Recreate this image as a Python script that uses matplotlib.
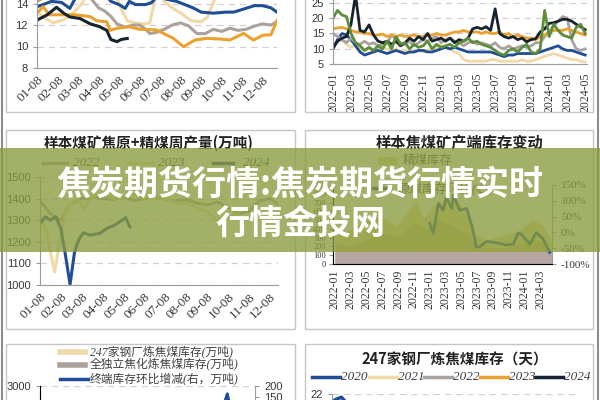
import matplotlib
matplotlib.use("Agg")
import matplotlib.pyplot as plt
from matplotlib.patches import Rectangle
from matplotlib.lines import Line2D
import numpy as np

plt.rcParams['font.family'] = ['Liberation Sans', 'Noto Sans CJK SC', 'DejaVu Sans']
plt.rcParams['axes.unicode_minus'] = False

W, H = 600.0, 400.0
SERIF = ['Liberation Serif', 'Noto Sans CJK SC']
CJK = ['Noto Sans CJK SC', 'DejaVu Sans']

NAVY = '#1f4e96'
BEIGE = '#f1d9a8'
GRAY = '#aaa39d'
ORANGE = '#eba12e'
BLACK = '#17232f'
GREEN = '#5c8d3a'

# ---------------- data ----------------
months = ['01-08', '02-08', '03-08', '04-08', '05-08', '06-08',
          '07-08', '08-08', '09-08', '10-08', '11-08', '12-08']
ym_top = ['2022-01', '2022-03', '2022-05', '2022-07', '2022-09', '2022-11',
          '2023-01', '2023-03', '2023-05', '2023-07', '2023-09', '2023-11',
          '2024-01', '2024-03', '2024-05']
ym_mid = ym_top[:-1]

# top left: seasonal lines (x in months from 01-08)
tl_blue_x = [0, 0.3, 0.7, 1.2, 1.6, 1.9, 2.5, 3.2, 3.6, 4.0, 4.3, 4.5, 4.8, 5.3, 5.6, 5.9, 6.3,
             6.8, 7.2, 7.6, 8.0, 8.6, 9.2, 9.6, 10.1, 10.6, 11.0, 11.4, 11.7]
tl_blue = [13.7, 13.9, 14.2, 14.1, 13.55, 14.6, 15.5, 15.2, 14.2, 13.9, 13.55, 14.2, 13.9, 13.9,
           14.1, 14.8, 14.4, 14.2, 13.9, 13.6, 13.2, 13.1, 13.2, 13.2, 13.5, 13.8, 13.8, 13.6, 13.2]
tl_beige_x = [0, 0.4, 0.8, 1.3, 1.7, 2.2, 2.6, 3.2, 3.8, 4.1, 4.4, 4.8, 5.2, 5.5, 5.8, 6.0, 6.2,
              6.6, 7.1, 7.5, 8.0, 8.3, 8.7, 9.0, 10.0, 11.7]
tl_beige = [13.2, 12.6, 12.2, 12.5, 13.0, 14.0, 15.5, 16.0, 15.0, 13.5, 12.4, 12.2, 12.1, 12.2,
            14.8, 15.5, 14.2, 13.6, 13.0, 12.4, 12.3, 12.7, 14.6, 16.0, 17.0, 17.0]
tl_gray_x = [0, 0.3, 0.8, 1.5, 2.3, 2.7, 3.0, 3.3, 3.6, 3.9, 4.3, 4.7, 5.0, 5.3, 5.5, 5.8, 6.2,
             6.6, 7.0, 7.4, 7.8, 8.2, 8.6, 9.0, 9.4, 9.8, 10.2, 10.6, 11.0, 11.4, 11.7]
tl_gray = [14.2, 14.5, 15.5, 16.0, 15.2, 14.3, 13.6, 13.3, 12.8, 12.1, 11.8, 12.0, 12.0, 11.6,
           11.2, 11.3, 11.6, 12.0, 12.2, 11.9, 11.2, 11.2, 11.6, 11.4, 11.7, 11.5, 11.6, 11.9,
           12.1, 12.0, 12.3]
tl_orange_x = [0, 0.3, 0.6, 1.0, 1.8, 2.1, 2.6, 2.9, 3.4, 3.56, 3.9, 4.5, 5.0, 5.8, 6.16, 6.65,
               7.14, 7.7, 8.28, 8.93, 9.4, 10.07, 10.55, 11.04, 11.4, 11.7]
tl_orange = [13.1, 13.7, 12.95, 12.95, 12.95, 12.9, 12.77, 12.4, 12.3, 11.5, 11.7, 11.84, 11.6,
             11.55, 11.22, 10.76, 9.98, 10.6, 10.76, 10.7, 10.6, 11.22, 10.6, 11.07, 11.07, 12.4]
tl_black_x = [0, 0.5, 0.95, 1.3, 1.6, 2.1, 2.6, 3.05, 3.4, 3.6, 3.9, 4.1, 4.4]
tl_black = [12.45, 12.95, 13.65, 13.1, 12.75, 12.6, 12.1, 11.85, 11.5, 10.65, 10.45, 10.65, 10.75]

# top right: half-month steps from 2022-01
tr_black = [10.3, 12.5, 13.5, 14.0, 18.0, 27.5, 16.0, 15.5, 17.8, 14.5, 12.5, 12.0, 12.5, 11.5,
            12.5, 11.0, 12.0, 13.5, 12.5, 14.0, 13.0, 15.0, 12.5, 13.0, 13.5, 12.5, 13.5, 12.0,
            13.0, 12.5, 13.5, 16.5, 17.0, 16.5, 17.2, 16.0, 23.0, 15.0, 14.0, 13.5, 14.0, 13.0,
            13.5, 12.3, 13.0, 13.3, 15.5, 16.5, 18.3, 18.5, 19.0, 19.6, 19.6, 19.0, 18.0, 17.2, 16.2]
tr_orange = [16.5, 16.8, 17.0, 16.5, 16.0, 15.5, 15.5, 15.0, 15.0, 14.5, 14.5, 14.8, 14.0, 14.5,
             14.0, 14.5, 14.0, 14.2, 14.5, 14.0, 14.0, 14.5, 14.5, 15.0, 14.5, 14.5, 15.0, 15.5,
             15.5, 16.0, 15.5, 15.5, 15.5, 15.0, 15.5, 15.0, 15.0, 15.5, 14.5, 15.0, 14.0, 14.5,
             14.0, 13.5, 13.5, 13.0, 14.0, 14.5, 15.5, 16.0, 16.0, 16.0, 16.5, 16.0, 15.5, 15.0, 14.5]
tr_gray = [15.0, 14.0, 13.0, 12.0, 13.5, 12.0, 11.5, 12.5, 11.5, 12.0, 11.0, 11.5, 12.0, 14.5,
           13.0, 12.0, 11.5, 12.5, 11.0, 12.0, 13.0, 12.5, 13.5, 14.0, 12.0, 13.0, 13.5, 12.5,
           12.0, 11.0, 12.0, 12.5, 11.5, 12.0, 11.5, 11.0, 12.0, 10.5, 10.0, 11.0, 10.0, 10.5,
           11.0, 10.5, 11.0, 12.0, 12.0, 14.0, 15.5, 17.5, 19.0, 20.5, 20.0, 13.0, 10.0, 9.5, 10.0]
tr_green = [20.0, 22.5, 21.0, 20.5, 15.0, 12.0, 11.0, 9.5, 10.5, 9.5, 11.0, 10.0, 12.5, 10.0,
            14.0, 11.5, 12.0, 10.0, 11.5, 10.5, 11.0, 12.5, 10.0, 11.5, 10.5, 11.0, 11.5, 10.5,
            12.0, 12.5, 13.5, 12.0, 12.5, 11.5, 11.0, 10.5, 9.5, 8.5, 8.0, 9.5, 10.0, 9.0,
            10.5, 11.5, 9.0, 8.5, 10.0, 22.5, 14.0, 18.0, 16.0, 14.5, 14.0, 13.5, 17.0, 18.0, 15.0]
tr_blue = [10.0, 13.0, 15.0, 14.5, 13.0, 11.0, 9.0, 8.0, 8.5, 9.0, 9.5, 9.0, 8.5, 9.0,
           9.5, 9.0, 8.5, 9.0, 9.0, 9.5, 9.5, 9.0, 9.0, 9.5, 10.0, 10.5, 10.0, 10.5,
           10.0, 9.5, 9.0, 9.0, 9.0, 9.0, 9.0, 9.0, 8.5, 8.0, 7.5, 8.0, 8.0, 8.5,
           8.5, 8.5, 8.5, 8.5, 9.0, 9.5, 10.0, 10.5, 11.0, 10.0, 9.5, 9.5, 9.0, 8.5, 8.0]
tr_beige = [11.0, 12.0, 13.0, 11.5, 10.5, 11.0, 10.0, 9.5, 10.0, 9.5, 10.0, 10.5, 10.0, 9.5,
            10.0, 9.0, 9.5, 9.0, 9.0, 9.5, 9.0, 9.5, 10.0, 10.5, 11.0, 10.5, 10.0, 9.0,
            8.5, 6.5, 6.0, 6.0, 6.0, 6.0, 6.0, 6.5, 6.5, 6.0, 6.0, 6.0, 6.0, 6.0,
            6.5, 6.0, 6.0, 6.5, 7.0, 7.5, 8.0, 8.5, 8.0, 7.5, 7.0, 6.5, 6.5, 6.0, 5.8]

# middle left: weekly output (x in months)
ml_22_x = [0, 0.5, 1.0, 1.4, 2.0, 2.5, 3.0, 3.5, 4.0, 4.5, 5.0, 5.5, 6.0, 6.5, 7.0, 7.5, 8.0,
           8.5, 9.0, 9.5, 10.0, 10.5, 11.0, 11.4]
ml_22 = [1390, 1330, 1300, 1370, 1400, 1410, 1400, 1395, 1410, 1390, 1400, 1410, 1395, 1390,
         1395, 1380, 1370, 1385, 1360, 1330, 1340, 1390, 1400, 1375]
ml_23_x = [0, 0.3, 0.7, 1.0, 1.2, 1.5, 1.8, 2.1, 2.5, 3.0, 3.5, 4.0, 4.5, 5.0, 5.5, 6.0, 6.5,
           7.0, 7.5, 8.0, 8.5, 9.0, 9.5]
ml_23 = [1320, 1250, 1060, 1230, 1330, 1380, 1400, 1350, 1410, 1420, 1400, 1410, 1420, 1400,
         1410, 1400, 1380, 1380, 1360, 1340, 1300, 1310, 1330]
ml_24_x = [0, 0.25, 0.5, 0.75, 1.0, 1.2, 1.44, 1.65, 1.85, 2.07, 2.4, 2.87, 3.2, 3.5, 3.83,
           4.1, 4.3]
ml_24 = [1285, 1316, 1300, 1316, 1262, 1150, 1003, 1150, 1208, 1242, 1231, 1239, 1262, 1273,
         1293, 1312, 1270]

# middle right: mine inventory areas (left axis) and change line (right axis, %)
mr_up_x = [0, 1.9, 4.0, 5.7, 7.0, 7.8, 9.5, 10.3, 11.2, 12.4, 13.7, 14.6, 15.4, 16.7, 17.9,
           19.2, 21.7, 23.4, 25.1, 26.4, 27.5]
mr_up = [314, 390, 506, 544, 480, 430, 640, 716, 520, 659, 716, 680, 736, 560, 333, 276, 333,
         390, 506, 430, 250]
mr_lo_x = [0, 1.9, 4.0, 5.7, 8.0, 10.0, 11.5, 13.0, 15.0, 16.7, 17.9, 19.2, 22.0, 25.1, 26.8,
           27.5]
mr_lo = [250, 200, 276, 352, 314, 467, 400, 506, 429, 352, 200, 180, 190, 276, 230, 150]
mr_base_x = [0, 9, 18, 27.5]
mr_base = [140, 145, 140, 145]
mr_line_x = [12.0, 12.45, 13.1, 13.7, 14.1, 14.8, 15.0, 15.8, 16.7, 17.5, 17.9, 18.35, 19.2,
             20.0, 20.9, 21.7, 22.6, 23.2, 23.6, 24.7, 25.5, 26.4, 27.2]
mr_line = [29, -3, 92, 70, 111, 76, 118, 70, 76, 6, -47, -45, -29, -31, -35, -40, -37, -3, -6,
           -37, 0, -22, -63]

# bottom left: terminal inventory change (right axis)
bl_line_x = [22.5, 23.5, 24.0, 24.4, 24.8, 25.5, 26.5]
bl_line = [40, 60, 120, 164, 90, 20, 50]

# bottom right: 2020 days of coking coal
br_2020_x = [0, 0.2, 0.45, 0.7, 1.0, 1.5]
br_2020 = [21.4, 21.6, 21.75, 21.3, 20.2, 19.5]


def box(l, t, r, b):
    return [l / W, 1 - b / H, (r - l) / W, (b - t) / H]


def fy(y):
    return 1 - y / H


def style(ax, grid=True):
    for s in ['top', 'right']:
        ax.spines[s].set_visible(False)
    for s in ['left', 'bottom']:
        ax.spines[s].set_color('#9c9c9c')
    ax.tick_params(colors='#9c9c9c', labelcolor='#383838', length=3, width=0.8, labelsize=8)
    if grid:
        ax.yaxis.grid(True, ls=(0, (5, 4)), color='#dccccc', lw=0.9)
        ax.set_axisbelow(True)


def legend_line(x0, x1, y, color, lw=2.5):
    fig.add_artist(Line2D([x0 / W, x1 / W], [fy(y), fy(y)], color=color, lw=lw))


def legend_text(x, y, s, size=9.5, family=SERIF):
    fig.text(x / W, fy(y), s, ha='left', va='center', fontsize=size, family=family,
             style='italic', color='#404040')


fig = plt.figure(figsize=(6, 4), dpi=100)
fig.patch.set_facecolor('white')

# panel frames and page edges
for l, t, r, b in [(6, -20, 295, 112), (305, -20, 593, 112), (6, 130, 295, 329),
                   (305, 130, 593, 329), (6, 344, 295, 420), (305, 344, 593, 420)]:
    fig.add_artist(Rectangle((l / W, fy(b)), (r - l) / W, (b - t) / H, fill=False,
                             ec='#c6c6c6', lw=1.0))
fig.add_artist(Line2D([1.5 / W] * 2, [0, 1], color='#8c8c8c', lw=1.5))
fig.add_artist(Line2D([597.5 / W] * 2, [0, 1], color='#8c8c8c', lw=1.5))

# ---- top left
ax = fig.add_axes(box(37, -39.5, 277, 68))
style(ax)
ax.plot(tl_beige_x, tl_beige, color=BEIGE, lw=2.2)
ax.plot(tl_blue_x, tl_blue, color=NAVY, lw=2.2)
ax.plot(tl_gray_x, tl_gray, color=GRAY, lw=2.2)
ax.plot(tl_orange_x, tl_orange, color=ORANGE, lw=2.2)
ax.plot(tl_black_x, tl_black, color=BLACK, lw=2.2)
ax.set_xlim(0, 11.7)
ax.set_ylim(8, 18)
ax.set_yticks([8, 10, 12, 14])
ax.set_xticks(range(12))
ax.set_xticklabels(months, rotation=45, ha='right', rotation_mode='anchor',
                   fontsize=9.5, family=SERIF)
ax.tick_params(axis='x', length=0, pad=4)

# ---- top right
ax = fig.add_axes(box(333, -12.7, 587, 64.3))
style(ax)
for vals, c in [(tr_beige, BEIGE), (tr_blue, NAVY), (tr_gray, GRAY), (tr_orange, ORANGE),
                (tr_black, BLACK), (tr_green, GREEN)]:
    ax.plot(np.arange(len(vals)) * 0.5, vals, color=c, lw=2.0)
ax.set_xlim(0, 28.2)
ax.set_ylim(5, 30)
ax.set_yticks(range(5, 26, 5))
ax.set_xticks(range(0, 29, 2))
ax.set_xticklabels(ym_top, rotation=90, fontsize=8.5, family=SERIF)
ax.tick_params(axis='x', length=0, pad=6)

# ---- middle left
fig.text(149 / W, fy(143), '样本煤矿焦原+精煤周产量(万吨)', ha='center', va='center',
         fontsize=10.5, family=CJK, fontweight='bold', color='#222222')
legend_line(43, 67, 163, GRAY)
legend_text(73, 163, '2022')
legend_line(128, 152, 163, BEIGE)
legend_text(158, 163, '2023')
legend_line(213, 233, 163, NAVY)
legend_text(243, 163, '2024')
ax = fig.add_axes(box(40, 177, 278, 285))
style(ax)
ax.plot(ml_22_x, ml_22, color=GRAY, lw=2.0)
ax.plot(ml_23_x, ml_23, color=BEIGE, lw=2.2)
ax.plot(ml_24_x, ml_24, color=NAVY, lw=2.2)
ax.set_xlim(0, 11.4)
ax.set_ylim(1000, 1500)
ax.set_yticks(range(1000, 1501, 100))
ax.set_xticks(range(12))
ax.set_xticklabels(months, rotation=45, ha='right', rotation_mode='anchor',
                   fontsize=9.5, family=SERIF)
ax.tick_params(axis='x', length=0, pad=4)

# ---- middle right
fig.text(460 / W, fy(143), '样本焦煤矿产端库存变动', ha='center', va='center',
         fontsize=11, family=CJK, fontweight='bold', color='#222222')
fig.add_artist(Rectangle((378 / W, fy(165)), 19 / W, 8 / H, fc='#e4d590', ec='none'))
legend_text(403, 161, '精煤库存', size=9)
legend_line(373, 390, 188, NAVY)
legend_text(398, 188, '原煤库存环比(右)', size=9)
ax = fig.add_axes(box(333, 185, 552, 264))
style(ax, grid=False)
ax.fill_between(mr_up_x, mr_up, color='#e4d590', lw=0)
ax.fill_between(mr_lo_x, mr_lo, color='#c9b873', lw=0)
ax.fill_between(mr_base_x, mr_base, color='#b5a6a1', lw=0)
ax.set_xlim(-0.25, 27.5)
ax.set_ylim(0, 900)
ax.set_yticks(range(0, 901, 100))
ax.set_yticklabels([str(v) for v in range(0, 901, 100)], family=SERIF, fontsize=6)
ax.tick_params(axis='y', pad=2)
ax.set_xticks(range(0, 27, 2))
ax.set_xticklabels(ym_mid, rotation=90, fontsize=8.5, family=SERIF)
ax.tick_params(axis='x', length=0, pad=4)
ax2 = ax.twinx()
ax2.spines['top'].set_visible(False)
ax2.spines['right'].set_color('#9c9c9c')
ax2.plot(mr_line_x, mr_line, color=NAVY, lw=2.0)
ax2.set_ylim(-100, 150)
ax2.set_yticks(range(-100, 151, 50))
ax2.set_yticklabels(['-100%', '-50%', '0%', '50%', '100%', '150%'], family=SERIF, fontsize=8)
ax2.tick_params(colors='#9c9c9c', labelcolor='#383838', length=3, width=0.8)

# ---- bottom left
legend_line(60, 85, 352, BEIGE, lw=4)
legend_text(90, 352, '247家钢厂炼焦煤库存(万吨)', size=8.5)
legend_line(60, 85, 365, GRAY, lw=4)
legend_text(90, 365, '全独立焦化炼焦煤库存(万吨)', size=8.5)
legend_line(60, 88, 379, NAVY, lw=2.5)
legend_text(90, 379, '终端库存环比增减(右，万吨)', size=8.5)
ax = fig.add_axes(box(40, 386, 255, 536))
style(ax)
ax.set_xlim(0, 28)
ax.set_ylim(0, 3000)
ax.set_yticks([3000])
ax.set_xticks([])
ax2 = ax.twinx()
ax2.spines['top'].set_visible(False)
ax2.spines['right'].set_color('#9c9c9c')
ax2.plot(bl_line_x, bl_line, color=NAVY, lw=2.2)
ax2.set_ylim(-480, 200)
ax2.set_yticks([150, 200])
ax2.tick_params(colors='#9c9c9c', labelcolor='#383838', length=3, width=0.8, labelsize=8)

# ---- bottom right
fig.text(455 / W, fy(360), '247家钢厂炼焦煤库存（天）', ha='center', va='center',
         fontsize=10.5, family=CJK, fontweight='bold', color='#222222')
for x0, lab, c in [(312, '2020', NAVY), (369, '2021', BEIGE), (424, '2022', GRAY),
                   (480, '2023', ORANGE), (535, '2024', BLACK)]:
    legend_line(x0, x0 + 28, 377, c, lw=2.5)
    legend_text(x0 + 29, 377, lab, size=9.5)
ax = fig.add_axes(box(332, 394, 578, 524))
style(ax)
ax.plot(br_2020_x, br_2020, color=NAVY, lw=2.5)
ax.set_xlim(0, 11.7)
ax.set_ylim(12, 22)
ax.set_yticks([22])
ax.set_xticks([])

# ---- banner overlay
fig.add_artist(Rectangle((0, fy(252)), 1, 104 / H, fc='#8a9c3e', ec='none', alpha=0.78,
                         zorder=10))
fig.text(0.5, fy(184), '焦炭期货行情:焦炭期货行情实时', ha='center', va='center', color='white',
         fontsize=24.5, fontweight='bold', family=CJK, zorder=11)
fig.text(0.5, fy(223), '行情金投网', ha='center', va='center', color='white',
         fontsize=24.5, fontweight='bold', family=CJK, zorder=11)

fig.savefig('out.png', dpi=100)
